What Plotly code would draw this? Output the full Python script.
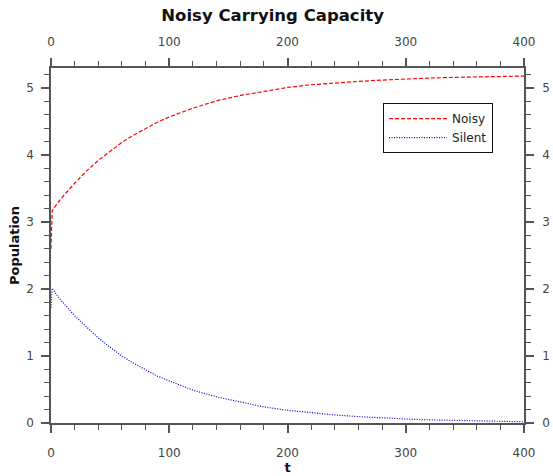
import plotly.graph_objects as go

t = [0, 1, 5, 10, 20, 30, 40, 50, 60, 70, 80, 90, 100, 120, 140, 160, 180, 200,
     220, 240, 260, 280, 300, 320, 340, 360, 380, 400]
noisy = [2.60, 3.17, 3.27, 3.38, 3.58, 3.76, 3.92, 4.06, 4.19, 4.30, 4.40, 4.49, 4.57,
         4.70, 4.81, 4.89, 4.95, 5.01, 5.05, 5.08, 5.10, 5.12, 5.14, 5.15, 5.16, 5.17,
         5.18, 5.18]
silent = [1.72, 2.01, 1.91, 1.80, 1.60, 1.43, 1.27, 1.13, 1.00, 0.89, 0.79, 0.70, 0.63,
          0.49, 0.39, 0.31, 0.24, 0.19, 0.15, 0.12, 0.095, 0.075, 0.06, 0.047, 0.037,
          0.029, 0.023, 0.018]

FONT = "DejaVu Sans"
AX = "#555555"
TK = "#444444"

fig = go.Figure()
fig.add_trace(go.Scatter(x=t, y=noisy, mode="lines", name="Noisy",
                         line=dict(color="#ff0000", width=1.2, dash="4px,2px")))
fig.add_trace(go.Scatter(x=t, y=silent, mode="lines", name="Silent",
                         line=dict(color="#0000cc", width=1.2, dash="1px,1.5px")))
# invisible trace for mirrored labelled axes
fig.add_trace(go.Scatter(x=[t[0], t[-1]], y=[0, 0], mode="lines", xaxis="x2", yaxis="y2",
                         showlegend=False, hoverinfo="skip", line=dict(width=0)))

common = dict(showline=True, linecolor=AX, linewidth=1.5, ticks="outside", tickcolor=AX,
              tickwidth=1.5, ticklen=8, showgrid=False, zeroline=False, automargin=False,
              tickfont=dict(family=FONT, size=12, color=TK))

xminor = dict(dtick=20, ticks="outside", ticklen=5, tickcolor=AX, tickwidth=1.2)
yminor = dict(dtick=0.2, ticks="outside", ticklen=5, tickcolor=AX, tickwidth=1.2)

fig.update_layout(
    width=553, height=476,
    margin=dict(l=51, r=29, t=68, b=53, autoexpand=False),
    paper_bgcolor="white", plot_bgcolor="white",
    title=dict(text="<b>Noisy Carrying Capacity</b>", xref="container", x=0.493, xanchor="center",
               y=0.968, yanchor="middle", font=dict(family=FONT, size=16.5, color="#111")),
    xaxis=dict(range=[0, 400], dtick=100, tick0=0, minor=xminor, ticklabelstandoff=10,
               title=dict(text="<b>t</b>", font=dict(family=FONT, size=13, color="#111"), standoff=2),
               **common),
    xaxis2=dict(range=[0, 400], dtick=100, tick0=0, overlaying="x", side="top",
                minor=xminor, ticklabelstandoff=7, **common),
    yaxis=dict(range=[0, 5.3], dtick=1, tick0=0, minor=yminor, ticklabelstandoff=5,
               title=dict(text="<b>Population</b>", font=dict(family=FONT, size=13, color="#111"), standoff=4),
               **common),
    yaxis2=dict(range=[0, 5.3], dtick=1, tick0=0, overlaying="y", side="right",
                minor=yminor, ticklabelstandoff=6, **common),
    legend=dict(x=0.702, y=0.901, xanchor="left", yanchor="top",
                bgcolor="white", bordercolor="#111", borderwidth=1,
                font=dict(family=FONT, size=12, color="#222"),
                itemwidth=58, tracegroupgap=0),
    showlegend=True,
)

fig.write_html("out.html")
